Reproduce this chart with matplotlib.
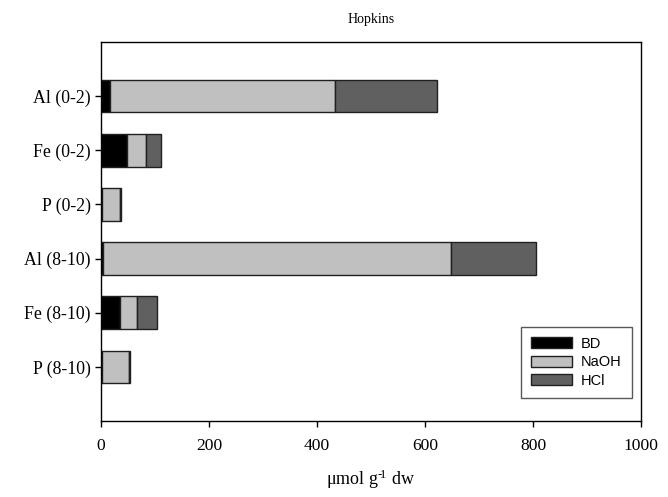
import matplotlib
matplotlib.use("Agg")
import matplotlib.pyplot as plt
import numpy as np

categories = ["Al (0-2)", "Fe (0-2)", "P (0-2)", "Al (8-10)", "Fe (8-10)", "P (8-10)"]
bd = [17, 49, 1, 3, 36, 1]
naoh = [416, 34, 35, 646, 31, 51]
hcl = [189, 29, 1, 156, 37, 2]
series_names = ["BD", "NaOH", "HCl"]
xticks = [0, 200, 400, 600, 800, 1000]

plt.rcParams['mathtext.fontset'] = 'custom'
plt.rcParams['mathtext.rm'] = 'Liberation Serif'
plt.rcParams['mathtext.it'] = 'Liberation Serif:italic'

fig = plt.figure(figsize=(6.68, 4.97), dpi=100)
ax = fig.add_axes([0.1512, 0.1529, 0.8084, 0.7626])

y = np.arange(len(categories))
colors = ["#000000", "#c0c0c0", "#606060"]
left = np.zeros(len(categories))
for vals, name, c in zip([bd, naoh, hcl], series_names, colors):
    ax.barh(y, vals, left=left, height=0.6, color=c, edgecolor="#202020",
            linewidth=1.0, label=name)
    left = left + np.array(vals)

ax.set_ylim(6, -1)
ax.set_xlim(0, 1000)
ax.set_yticks(y)
ax.set_yticklabels(categories, fontfamily="Liberation Serif", fontsize=12.8)
ax.set_xticks(xticks)
ax.set_xticklabels([str(t) for t in xticks], fontfamily="Liberation Serif", fontsize=12.6)
ax.tick_params(direction="out", length=4, width=1)
ax.tick_params(axis="y", pad=3.5)
ax.tick_params(axis="x", pad=8)
for s in ax.spines.values():
    s.set_linewidth(1.0)

ax.set_title("Hopkins", fontfamily="Liberation Serif", fontsize=10, pad=14)
ax.set_xlabel("μmol g$^{\u2010\\!1}$ dw", fontfamily="Liberation Serif", fontsize=13, labelpad=10)

leg = ax.legend(loc="lower right", bbox_to_anchor=(0.983, 0.061), borderaxespad=0,
                prop={"family": "Liberation Sans", "size": 10.5},
                frameon=True, fancybox=False, edgecolor="#303030",
                handlelength=2.8, handleheight=0.8, labelspacing=0.3,
                borderpad=0.7, handletextpad=0.6)
leg.get_frame().set_linewidth(1.0)

fig.savefig("out.png", dpi=100)
